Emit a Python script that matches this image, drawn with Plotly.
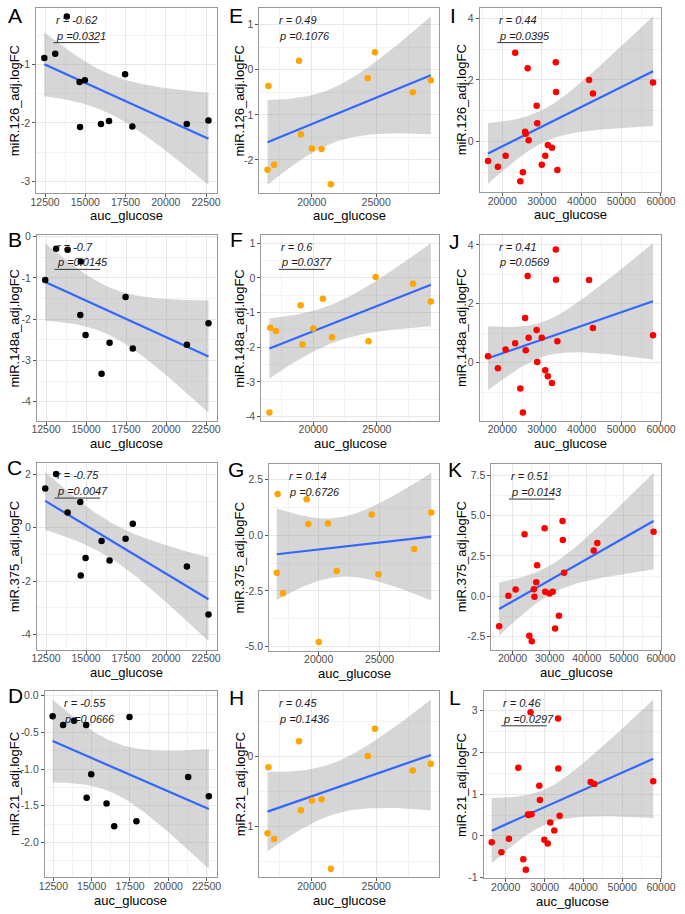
import numpy as np
import plotly.graph_objects as go

# ---------------- data ----------------
# auc_glucose (shared within each column of panels)
x_col1 = [12450, 13130, 13850, 14640, 14670, 14970, 15970, 16470, 17470, 17920, 21300, 22650]
x_col2 = [16560, 16630, 17070, 19010, 19150, 20010, 20760, 21480, 24350, 24910, 27840, 29250]
x_col3 = [16400, 18900, 20840, 23250, 24540, 25190, 25750, 25910, 26400, 26640, 28660,
          28810, 29950, 30830, 31480, 32520, 33490, 33550, 33890, 41880, 42850, 58000]

y_A = [-0.89, -0.82, -0.18, -1.30, -2.07, -1.27, -2.02, -1.97, -1.17, -2.06, -2.02, -1.96]
y_B = [-1.05, -0.29, -0.32, -1.90, -0.60, -2.38, -3.32, -2.57, -1.46, -2.71, -2.62, -2.10]
y_C = [1.47, 2.02, 0.57, 0.97, -1.79, -1.13, -0.50, -1.23, -0.41, 0.15, -1.45, -3.25]
y_D = [-0.28, -0.40, -0.34, -0.40, -1.39, -1.07, -1.47, -1.78, -0.29, -1.71, -1.11, -1.37]

y_E = [-2.22, -0.36, -2.11, 0.20, -1.43, -1.75, -1.76, -2.54, -0.18, 0.39, -0.50, -0.23]
y_F = [-3.88, -1.44, -1.53, -0.79, -1.92, -1.46, -0.60, -1.71, -1.83, 0.03, -0.17, -0.68]
y_G = [-1.68, 1.86, -2.60, 1.62, 0.51, -4.80, 0.53, -1.60, 0.94, -1.75, -0.61, 1.03]
y_H = [-1.10, -0.15, -1.18, 0.22, -0.77, -0.63, -0.61, -1.61, 0.01, 0.40, -0.20, -0.10]

y_I = [-0.63, -0.82, -0.46, 2.88, -1.29, -1.00, 0.32, 0.25, 2.38, 0.04, 1.16, 0.59,
       -0.75, -0.46, -0.11, -0.20, 2.57, 1.61, -0.92, 2.00, 1.56, 1.92]
y_J = [0.22, -0.19, 0.45, 0.66, -0.88, -1.69, 1.52, 0.42, 2.94, 0.85, 1.11, 0.02,
       0.85, -0.26, -0.46, -0.69, 3.84, 2.82, 0.73, 2.81, 1.18, 0.93]
y_K = [-1.88, 0.02, 0.41, 3.84, -2.47, -2.80, 0.43, -0.04, 0.86, 1.92, 4.22, 0.27,
       0.16, 0.27, -2.02, -1.22, 4.67, 3.49, 1.45, 2.84, 3.31, 4.00]
y_L = [-0.15, -0.39, -0.07, 1.63, -0.56, -0.81, 0.51, 0.50, 2.96, 0.52, 1.20, 0.86,
       -0.09, -0.18, 0.32, 0.13, 2.81, 1.61, 0.48, 1.29, 1.24, 1.31]

panel_letters = ["A", "B", "C", "D", "E", "F", "G", "H", "I", "J", "K", "L"]
y_titles = ["miR.126_adj.logFC", "miR.148a_adj.logFC", "miR.375_adj.logFC", "miR.21_adj.logFC"] * 3
x_title = "auc_glucose"
r_texts = ["-0.62", "-0.7", "-0.75", "-0.55", "0.49", "0.6", "0.14", "0.45", "0.44", "0.41", "0.51", "0.46"]
p_values = [0.0321, 0.0145, 0.0047, 0.0666, 0.1076, 0.0377, 0.6726, 0.1436, 0.0395, 0.0569, 0.0143, 0.0297]

xticks_col1 = [12500, 15000, 17500, 20000, 22500]
xticks_col2 = [20000, 25000]
xticks_col3 = [20000, 30000, 40000, 50000, 60000]

yticks = {
    "A": ([-3, -2, -1], ["-3", "-2", "-1"]),
    "B": ([-4, -3, -2, -1, 0], ["-4", "-3", "-2", "-1", "0"]),
    "C": ([-4, -2, 0, 2], ["-4", "-2", "0", "2"]),
    "D": ([-2.0, -1.5, -1.0, -0.5, 0.0], ["-2.0", "-1.5", "-1.0", "-0.5", "0.0"]),
    "E": ([-2, -1, 0, 1], ["-2", "-1", "0", "1"]),
    "F": ([-4, -3, -2, -1, 0, 1], ["-4", "-3", "-2", "-1", "0", "1"]),
    "G": ([-5.0, -2.5, 0.0, 2.5], ["-5.0", "-2.5", "0.0", "2.5"]),
    "H": ([-1, 0], ["-1", "0"]),
    "I": ([0, 2, 4], ["0", "2", "4"]),
    "J": ([0, 2, 4], ["0", "2", "4"]),
    "K": ([-2.5, 0.0, 2.5, 5.0, 7.5], ["-2.5", "0.0", "2.5", "5.0", "7.5"]),
    "L": ([-1, 0, 1, 2, 3], ["-1", "0", "1", "2", "3"]),
}

xs = [x_col1] * 4 + [x_col2] * 4 + [x_col3] * 4
ys = [y_A, y_B, y_C, y_D, y_E, y_F, y_G, y_H, y_I, y_J, y_K, y_L]
xtick_sets = [xticks_col1] * 4 + [xticks_col2] * 4 + [xticks_col3] * 4
point_colors = ["#000000"] * 4 + ["#FFA500"] * 4 + ["#FF0000"] * 4

# ---------------- layout geometry (pixels) ----------------
W, H = 685, 914
# left, right, top, bottom of each plotting panel
rects = {
    "A": (31, 217, 4, 191), "B": (32, 217, 233, 421), "C": (32, 217, 464, 652), "D": (40, 217, 694, 882),
    "E": (261, 446, 4, 191), "F": (263, 446, 233, 421), "G": (271, 446, 465, 653), "H": (261, 446, 694, 882),
    "I": (488, 675, 4, 190), "J": (488, 675, 233, 421), "K": (500, 675, 465, 652), "L": (492, 675, 694, 883),
}
letter_pos = {
    "A": (9, 12), "B": (9, 238), "C": (9, 468), "D": (10, 698),
    "E": (237, 12), "F": (237, 238), "G": (237, 470), "H": (237, 700),
    "I": (460, 12), "J": (462, 240), "K": (462, 470), "L": (462, 700),
}
ytitle_x = [9] * 4 + [241] * 4 + [469] * 4

TCRIT = {10: 2.228139, 20: 2.085963}


def lm_band(x, y, n_grid=80):
    x = np.asarray(x, float)
    y = np.asarray(y, float)
    n = len(x)
    b, a = np.polyfit(x, y, 1)
    resid = y - (a + b * x)
    s = np.sqrt((resid ** 2).sum() / (n - 2))
    xbar = x.mean()
    sxx = ((x - xbar) ** 2).sum()
    xg = np.linspace(x.min(), x.max(), n_grid)
    yg = a + b * xg
    se = s * np.sqrt(1.0 / n + (xg - xbar) ** 2 / sxx)
    t = TCRIT[n - 2]
    return xg, yg, yg - t * se, yg + t * se


def minor_vals(major, lo, hi):
    step = major[1] - major[0]
    cands = [m - step / 2 for m in major] + [major[-1] + step / 2]
    return [c for c in cands if lo <= c <= hi]


fig = go.Figure()
annotations = []
shapes = []
FONT = "Liberation Sans, Arial, sans-serif"

for i, letter in enumerate(panel_letters):
    k = "" if i == 0 else str(i + 1)
    xa, ya = "x" + k, "y" + k
    x = xs[i]
    y = ys[i]
    xg, yg, lo_b, hi_b = lm_band(x, y)

    # band
    fig.add_trace(go.Scatter(
        x=np.concatenate([xg, xg[::-1]]), y=np.concatenate([hi_b, lo_b[::-1]]),
        fill="toself", fillcolor="rgba(153,153,153,0.4)", line=dict(width=0),
        mode="lines", hoverinfo="skip", showlegend=False, xaxis=xa, yaxis=ya))
    # fit line
    fig.add_trace(go.Scatter(
        x=xg, y=yg, mode="lines", line=dict(color="#3366FF", width=2.2),
        showlegend=False, xaxis=xa, yaxis=ya))
    # points
    fig.add_trace(go.Scatter(
        x=x, y=y, mode="markers", marker=dict(color=point_colors[i], size=6.5, line=dict(width=0)),
        showlegend=False, xaxis=xa, yaxis=ya))

    # ranges (ggplot style: data + band, expanded 5%)
    xmin, xmax = min(x), max(x)
    xpad = 0.05 * (xmax - xmin)
    xr = [xmin - xpad, xmax + xpad]
    ymin = min(min(y), lo_b.min())
    ymax = max(max(y), hi_b.max())
    ypad = 0.05 * (ymax - ymin)
    yr = [ymin - ypad, ymax + ypad]

    l, r, t, b = rects[letter]
    xt = xtick_sets[i]
    xstep = xt[1] - xt[0]
    xminor = [v for v in [xt[0] - xstep / 2] + [v + xstep / 2 for v in xt] if xr[0] <= v <= xr[1]]
    ytv, ytt = yticks[letter]

    axis_common = dict(
        showline=True, mirror=True, linecolor="#999999", linewidth=1,
        ticks="outside", ticklen=3, tickwidth=1, tickcolor="#555555",
        tickfont=dict(size=10.5, color="#4D4D4D", family=FONT),
        showgrid=True, gridcolor="#E8E8E8", gridwidth=1, zeroline=False,
    )
    fig.layout["xaxis" + k] = dict(
        axis_common, domain=[l / W, r / W], anchor=ya, range=xr,
        tickmode="array", tickvals=xt, ticktext=[str(v) for v in xt],
        ticklabelstandoff=-4, ticklabeloverflow="allow",
        minor=dict(tickmode="array", tickvals=xminor, showgrid=True, gridcolor="#F3F3F3", gridwidth=0.6),
    )
    fig.layout["yaxis" + k] = dict(
        axis_common, domain=[1 - b / H, 1 - t / H], anchor=xa, range=yr,
        tickmode="array", tickvals=ytv, ticktext=ytt,
        minor=dict(tickmode="array", tickvals=minor_vals(ytv, yr[0], yr[1]), showgrid=True,
                   gridcolor="#F3F3F3", gridwidth=0.6),
    )

    pw, ph = r - l, b - t
    # r / p annotation
    annotations.append(dict(
        xref=xa + " domain", yref=ya + " domain", x=18 / pw, y=1 - 12 / ph,
        xanchor="left", yanchor="middle", showarrow=False,
        text="<i>r = %s</i>" % r_texts[i], font=dict(size=11, color="#1A1A1A", family=FONT)))
    annotations.append(dict(
        xref=xa + " domain", yref=ya + " domain", x=18 / pw, y=1 - 28 / ph,
        xanchor="left", yanchor="middle", showarrow=False,
        text="<i>p =%.4f</i>" % p_values[i], font=dict(size=11, color="#1A1A1A", family=FONT)))
    if p_values[i] < 0.05:
        shapes.append(dict(
            type="line", xref=xa + " domain", yref=ya + " domain",
            x0=18 / pw, x1=(18 + 47) / pw, y0=1 - 35 / ph, y1=1 - 35 / ph,
            line=dict(color="#333333", width=1)))

    # panel letter
    lx, ly = letter_pos[letter]
    annotations.append(dict(
        xref="paper", yref="paper", x=lx / W, y=1 - ly / H, xanchor="center", yanchor="middle",
        showarrow=False, text=letter, font=dict(size=21, color="#000000", family=FONT)))
    # axis titles
    annotations.append(dict(
        xref="paper", yref="paper", x=(l + r) / 2 / W, y=1 - (b + 23) / H, xanchor="center",
        yanchor="middle", showarrow=False, text=x_title, font=dict(size=13, color="#000000", family=FONT)))
    annotations.append(dict(
        xref="paper", yref="paper", x=ytitle_x[i] / W, y=1 - (t + b) / 2 / H, xanchor="center",
        yanchor="middle", textangle=-90, showarrow=False, text=y_titles[i],
        font=dict(size=13, color="#000000", family=FONT)))

fig.update_layout(
    width=W, height=H, margin=dict(l=0, r=0, t=0, b=0),
    paper_bgcolor="white", plot_bgcolor="white",
    annotations=annotations, shapes=shapes, showlegend=False,
    font=dict(family=FONT),
)

fig.write_html("out.html", config={"displayModeBar": False},
               post_script="document.body.style.margin='0';document.body.style.overflow='hidden';")
